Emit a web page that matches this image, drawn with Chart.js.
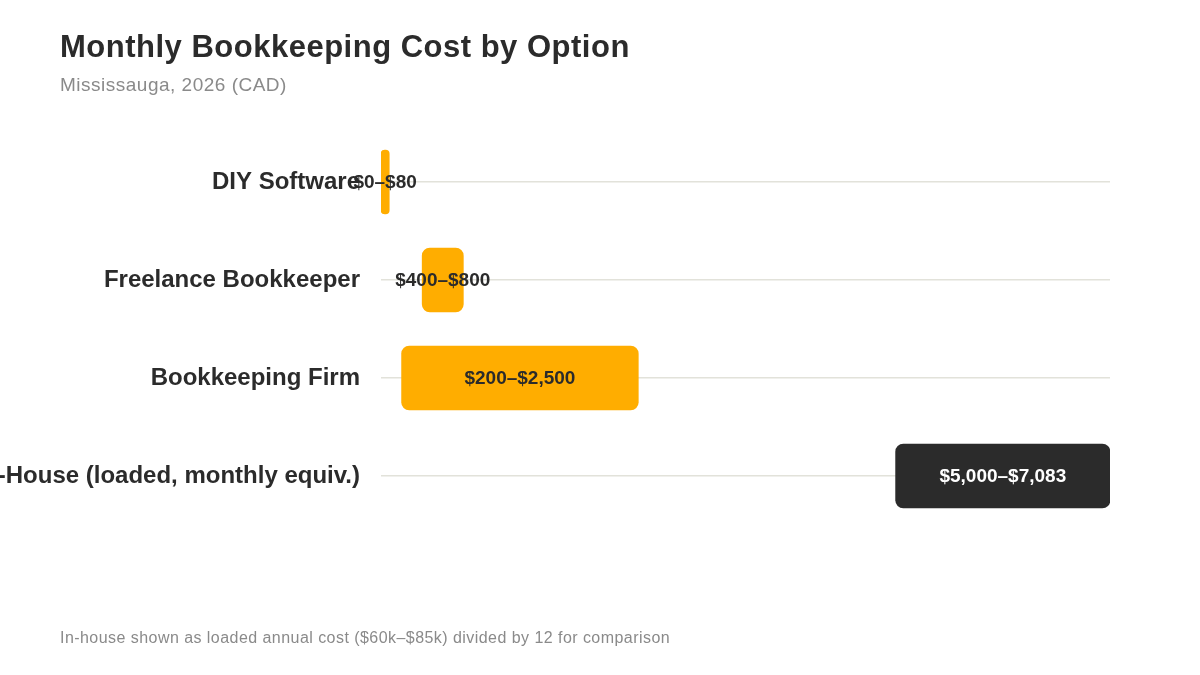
<!DOCTYPE html>
<html>
<head>
<meta charset="utf-8">
<script src="https://cdn.jsdelivr.net/npm/chart.js@4/dist/chart.umd.min.js"></script>
<style>
  html, body { margin: 0; padding: 0; background: #fff; }
  body { width: 1200px; height: 675px; position: relative; overflow: hidden; font-family: "Liberation Sans", Arial, sans-serif; }
  #title { position: absolute; left: 60px; top: 29px; font-size: 31px; letter-spacing: 0.5px; font-weight: bold; color: #2b2b2b; }
  #subtitle { position: absolute; left: 60px; top: 74px; font-size: 19px; letter-spacing: 0.5px; color: #8a8a8a; }
  #note { position: absolute; left: 60px; top: 629px; font-size: 16px; letter-spacing: 0.45px; color: #8a8a8a; }
  #wrap { position: absolute; left: 0; top: 0; width: 1200px; height: 675px; }
</style>
</head>
<body>
<div id="wrap"><canvas id="bar-chart"></canvas></div>
<div id="title">Monthly Bookkeeping Cost by Option</div>
<div id="subtitle">Mississauga, 2026 (CAD)</div>
<div id="note">In-house shown as loaded annual cost ($60k–$85k) divided by 12 for comparison</div>
<script>
var categories = ['DIY Software', 'Freelance Bookkeeper', 'Bookkeeping Firm', 'In-House (loaded, monthly equiv.)'];
var lowValues = [0, 400, 200, 5000];
var highValues = [80, 800, 2500, 7083];
var axisMax = 7083;

var yellow = '#FFAD00';
var dark = '#2b2b2b';

function money(v) {
    return '$' + v.toLocaleString('en-US');
}

var ranges = categories.map(function (c, i) {
    return [lowValues[i], highValues[i]];
});

var barColors = categories.map(function (c, i) {
    return i === categories.length - 1 ? dark : yellow;
});

// draws the "$low–$high" text in the middle of each bar
var rangeLabels = {
    id: 'rangeLabels',
    afterDatasetsDraw: function (chart) {
        var ctx = chart.ctx;
        var meta = chart.getDatasetMeta(0);
        ctx.save();
        ctx.font = 'bold 19px "Liberation Sans", Arial, sans-serif';
        ctx.textAlign = 'center';
        ctx.textBaseline = 'middle';
        meta.data.forEach(function (bar, i) {
            var mid = (bar.x + bar.base) / 2;
            ctx.fillStyle = barColors[i] === dark ? '#ffffff' : '#2b2b2b';
            ctx.fillText(money(lowValues[i]) + '–' + money(highValues[i]), mid, bar.y + 1);
        });
        ctx.restore();
    }
};

var chart = new Chart(document.getElementById('bar-chart'), {
    type: 'bar',
    data: {
        labels: categories,
        datasets: [{
            data: ranges,
            backgroundColor: barColors,
            borderRadius: 8,
            borderSkipped: false,
            barThickness: 64
        }]
    },
    options: {
        indexAxis: 'y',
        responsive: true,
        maintainAspectRatio: false,
        animation: false,
        layout: { padding: { top: 133, bottom: 150, right: 90, left: 0 } },
        plugins: {
            legend: { display: false },
            tooltip: { enabled: false }
        },
        scales: {
            x: {
                display: false,
                min: 0,
                max: axisMax
            },
            y: {
                afterFit: function (scale) { scale.width = 381; },
                border: { display: false },
                grid: { offset: false, drawTicks: false, color: '#e2e2da', lineWidth: 1.5 },
                ticks: {
                    padding: 21,
                    color: '#2b2b2b',
                    font: { family: '"Liberation Sans", Arial, sans-serif', size: 24, weight: 'bold' }
                }
            }
        }
    },
    plugins: [rangeLabels]
});
</script>
</body>
</html>
